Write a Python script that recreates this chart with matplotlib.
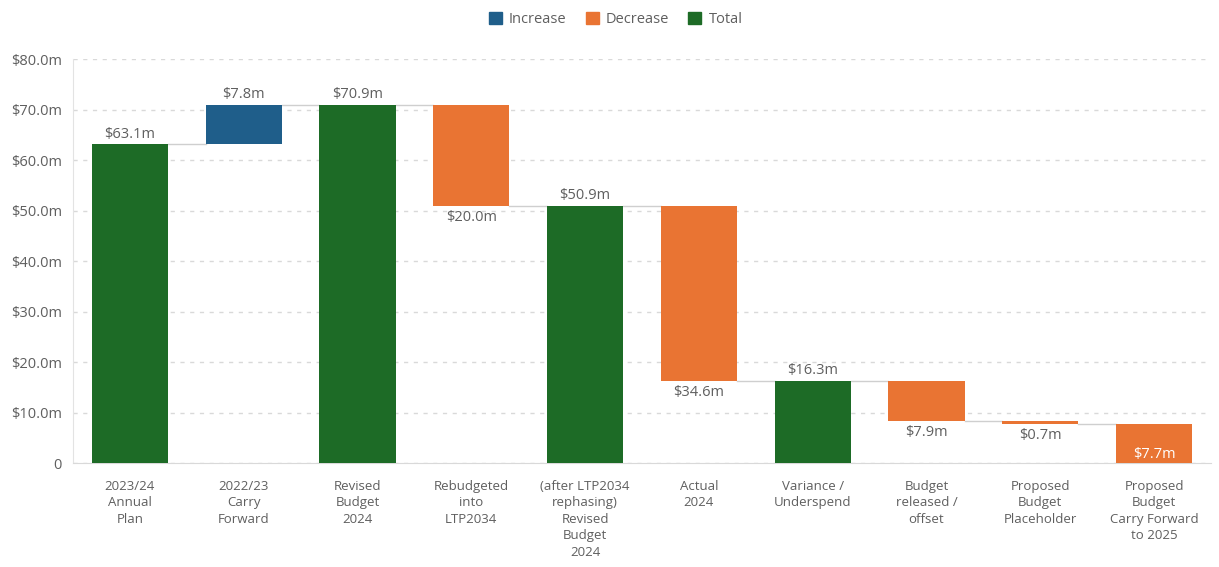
import matplotlib
matplotlib.use("Agg")
import matplotlib.pyplot as plt
from matplotlib.patches import Patch

plt.rcParams['font.family'] = ['Open Sans', 'DejaVu Sans']

categories = [
    "2023/24\nAnnual\nPlan",
    "2022/23\nCarry\nForward",
    "Revised\nBudget\n2024",
    "Rebudgeted\ninto\nLTP2034",
    "(after LTP2034\nrephasing)\nRevised\nBudget\n2024",
    "Actual\n2024",
    "Variance /\nUnderspend",
    "Budget\nreleased /\noffset",
    "Proposed\nBudget\nPlaceholder",
    "Proposed\nBudget\nCarry Forward\nto 2025",
]
# kind: 'total' bars start at zero; 'inc'/'dec' move the running level
kinds = ["total", "inc", "total", "dec", "total", "dec", "total", "dec", "dec", "dec"]
values = [63.1, 7.8, 70.9, 20.0, 50.9, 34.6, 16.3, 7.9, 0.7, 7.7]
yticks = [0, 10, 20, 30, 40, 50, 60, 70, 80]
ytick_labels = ["0", "$10.0m", "$20.0m", "$30.0m", "$40.0m", "$50.0m", "$60.0m", "$70.0m", "$80.0m"]

colors = {"inc": "#1F5E8A", "dec": "#E97433", "total": "#1D6B26"}
text_color = "#5f5f5f"

fig = plt.figure(figsize=(12.19, 5.67), dpi=100)
ax = fig.add_axes([0.0599, 0.1834, 0.9335, 0.7125])

width = 0.67
level = 0.0
bars = []
for i, (kind, v) in enumerate(zip(kinds, values)):
    if kind == "total":
        bottom, top = 0.0, v
        level = v
    elif kind == "inc":
        bottom, top = level, level + v
        level = top
    else:
        bottom, top = level - v, level
        level = bottom
    ax.bar(i, top - bottom, bottom=bottom, width=width, color=colors[kind], zorder=3)
    bars.append((kind, bottom, top, level))

# connector lines between consecutive bars
for i in range(len(bars) - 1):
    lvl = bars[i][3]
    ax.plot([i + width / 2, i + 1 - width / 2], [lvl, lvl], color="#cfcfcf", lw=1.0, zorder=2)

# value labels
for i, ((kind, bottom, top, lvl), v) in enumerate(zip(bars, values)):
    label = f"${v:.1f}m"
    if kind in ("total", "inc"):
        ax.annotate(label, (i, top), xytext=(0, 2), textcoords="offset points",
                    ha="center", va="bottom", fontsize=10.5, color=text_color, zorder=4)
    elif bottom <= 0.01:
        ax.annotate(label, (i, bottom), xytext=(0, 1), textcoords="offset points",
                    ha="center", va="bottom", fontsize=10.5, color="white", zorder=4)
    else:
        ax.annotate(label, (i, bottom), xytext=(0, -3), textcoords="offset points",
                    ha="center", va="top", fontsize=10.5, color=text_color, zorder=4)

ax.set_xlim(-0.5, len(categories) - 0.5)
ax.set_ylim(0, 80)
ax.set_yticks(yticks)
ax.set_yticklabels(ytick_labels)
ax.set_xticks(range(len(categories)))
ax.set_xticklabels(categories, linespacing=1.35)
ax.tick_params(axis="both", length=0, colors=text_color)
ax.tick_params(axis="x", pad=12, labelsize=9.5)
ax.tick_params(axis="y", pad=8, labelsize=10.5)

ax.yaxis.grid(True, linestyle=(0, (3, 4)), color="#d9d9d9", lw=1.0, zorder=0)
for s in ("top", "right"):
    ax.spines[s].set_visible(False)
ax.spines["left"].set_color("#e3e3e3")
ax.spines["bottom"].set_color("#d9d9d9")

handles = [Patch(color=colors["inc"], label="Increase"),
           Patch(color=colors["dec"], label="Decrease"),
           Patch(color=colors["total"], label="Total")]
fig.legend(handles=handles, loc="center", bbox_to_anchor=(0.505, 0.966), ncol=3,
           frameon=False, fontsize=10.5, handlelength=0.9, handleheight=0.9,
           handletextpad=0.5, columnspacing=1.3, labelcolor=text_color)

fig.savefig("out.png", dpi=100)
